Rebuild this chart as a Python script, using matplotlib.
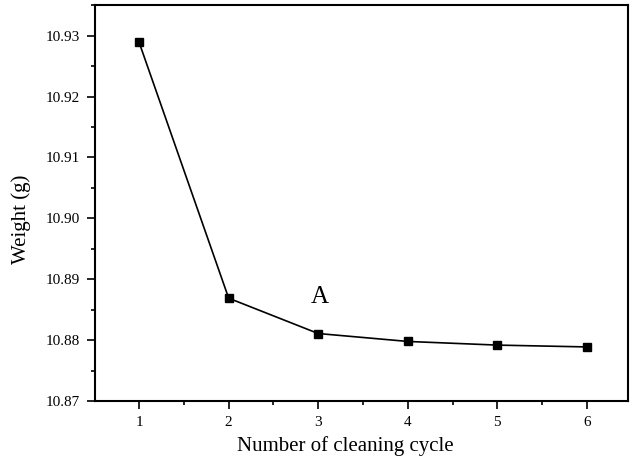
import matplotlib
matplotlib.use('Agg')
import matplotlib.pyplot as plt
from matplotlib.ticker import MultipleLocator

# 清洗循环次数与重量
cycles = [1, 2, 3, 4, 5, 6]
weights = [10.9289, 10.8869, 10.8811, 10.8798, 10.8792, 10.8789]
y_ticks = [10.87, 10.88, 10.89, 10.90, 10.91, 10.92, 10.93]

plt.rcParams['font.family'] = ['Liberation Serif', 'DejaVu Serif']

fig = plt.figure(figsize=(6.39, 4.67), dpi=100)
ax = fig.add_axes([0.149, 0.141, 0.834, 0.848])
ax.plot(cycles, weights, '-s', color='black', lw=1.2, ms=6)
ax.text(3.02, 10.8853, 'A', fontsize=18, ha='center', va='bottom')

ax.set_xlim(0.51, 6.46)
ax.set_ylim(10.87, 10.935)
ax.set_xticks(cycles)
ax.set_yticks(y_ticks)
ax.set_yticklabels(['%.2f' % v for v in y_ticks])
ax.xaxis.set_minor_locator(MultipleLocator(0.5))
ax.yaxis.set_minor_locator(MultipleLocator(0.005))
ax.tick_params(which='major', direction='out', length=6, width=1.2, labelsize=11, pad=5)
ax.tick_params(axis='x', which='major', pad=5)
ax.tick_params(which='minor', direction='out', length=3, width=1.2)
for s in ax.spines.values():
    s.set_linewidth(1.5)

ax.set_xlabel('Number of cleaning cycle', fontsize=15)
ax.xaxis.set_label_coords(0.47, -0.088)
ax.set_ylabel('Weight (g)', fontsize=15)
ax.yaxis.set_label_coords(-0.12, 0.46)
fig.savefig('out.png')
